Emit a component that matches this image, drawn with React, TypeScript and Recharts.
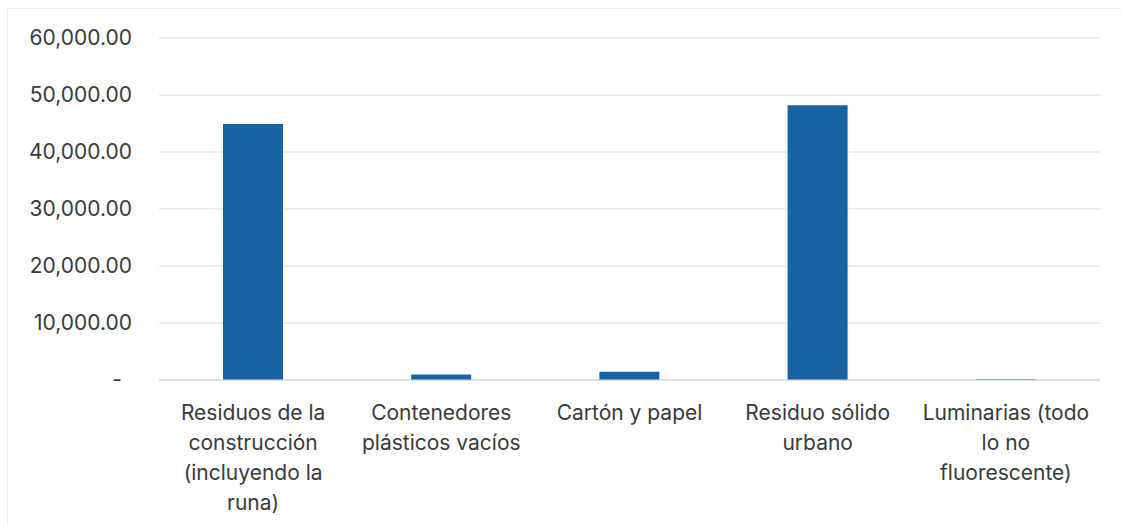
import { BarChart, Bar, XAxis, YAxis, CartesianGrid } from 'recharts'

const categories = [
  'Residuos de la construcción (incluyendo la runa)',
  'Contenedores plásticos vacíos',
  'Cartón y papel',
  'Residuo sólido urbano',
  'Luminarias (todo lo no fluorescente)',
]
const values = [44900, 950, 1450, 48200, 150]
const yTicks = [0, 10000, 20000, 30000, 40000, 50000, 60000]

const BAR_COLOR = '#1763a6'
const TEXT = '#3a3a3a'
const FONT = 'Inter, "Open Sans", sans-serif'

const data = categories.map((name, i) => ({ name, value: values[i] }))

function wrap(label: string, maxChars: number) {
  const lines: string[] = []
  let cur = ''
  for (const w of label.split(' ')) {
    const next = cur ? cur + ' ' + w : w
    if (next.length > maxChars && cur) {
      lines.push(cur)
      cur = w
    } else cur = next
  }
  if (cur) lines.push(cur)
  return lines
}

function CategoryTick({ x, y, payload }: any) {
  const lines = wrap(String(payload.value), 16)
  return (
    <text x={x} y={y} textAnchor="middle" fill={TEXT} fontSize={21} fontFamily={FONT}>
      {lines.map((l, i) => (
        <tspan key={i} x={x} dy={i === 0 ? 38 : 30}>{l}</tspan>
      ))}
    </text>
  )
}

function ValueTick({ x, y, payload }: any) {
  const v = payload.value as number
  const label = v === 0 ? '-' : v.toLocaleString('en-US', { minimumFractionDigits: 2, maximumFractionDigits: 2 })
  return (
    <text x={v === 0 ? x - 10 : x} y={y} dy={7} textAnchor="end" fill={TEXT} fontSize={21} fontFamily={FONT}>
      {label}
    </text>
  )
}

export default function App() {
  return (
    <div style={{ position: 'absolute', left: 0, top: 0, width: 1121, height: 524, background: '#fff' }}>
      <div style={{ position: 'absolute', left: 7, top: 8, right: 0, bottom: 0, borderTop: '1px solid #ececec', borderLeft: '1px solid #ececec' }} />
      <BarChart width={1121} height={524} data={data} margin={{ top: 38, right: 21, bottom: 0, left: 0 }}>
        <CartesianGrid stroke="#dcdcdc" vertical={false} />
        <XAxis
          dataKey="name"
          height={144}
          interval={0}
          tick={<CategoryTick />}
          tickLine={false}
          tickSize={0}
          axisLine={{ stroke: '#d4d4d4' }}
        />
        <YAxis
          domain={[0, 60000]}
          ticks={yTicks}
          width={159}
          tick={<ValueTick />}
          tickLine={false}
          tickSize={0}
          tickMargin={27}
          axisLine={false}
        />
        <Bar dataKey="value" fill={BAR_COLOR} barSize={60} isAnimationActive={false} />
      </BarChart>
    </div>
  )
}
